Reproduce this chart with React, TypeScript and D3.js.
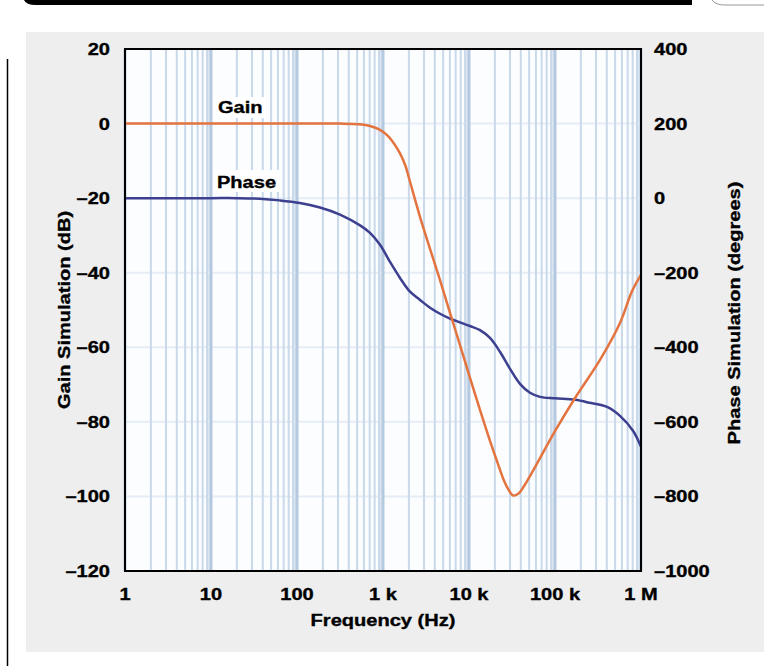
import * as d3 from "d3";

// Gain simulation (dB) vs frequency (Hz)
const gainFreq = [1, 10, 100, 316, 541, 706, 923, 1139, 1365, 1577, 1823, 2061, 2692, 3522, 4603, 6015, 7855, 10270, 13420, 17540, 21500, 24850, 28500, 32500, 37300, 43700, 53700, 66950, 100000, 171000, 333600, 570000, 785000, 1000000];
const gainDb = [0, 0, 0, 0, -0.2, -0.65, -1.7, -3.3, -5.6, -8.0, -11.3, -15.6, -25.0, -33.6, -42.0, -50.8, -59.4, -68.2, -76.8, -85.1, -91.0, -95.1, -98.0, -99.75, -99.3, -97.2, -93.7, -89.7, -82.5, -73.6, -63.4, -53.5, -45.0, -40.6];

// Phase simulation (degrees) vs frequency (Hz)
const phaseFreq = [1, 10, 20, 37, 63, 108, 185, 316, 541, 706, 923, 1206, 1577, 2061, 2692, 3522, 4603, 6015, 7855, 10270, 13420, 17540, 22920, 29980, 39170, 51180, 66950, 100000, 171000, 255200, 402700, 570000, 807000, 1000000];
const phaseDeg = [0, 0, 0, -1.5, -6, -13, -25, -44, -73, -93, -125, -171, -214, -251, -273, -294, -310, -323, -333, -343, -354, -375, -412, -458, -498, -522, -533, -537, -541, -549, -560, -584, -624, -667];

const xTicks = [1, 10, 100, 1000, 10000, 100000, 1000000];
const xTickLabels = ["1", "10", "100", "1 k", "10 k", "100 k", "1 M"];
const gainTicks = [20, 0, -20, -40, -60, -80, -100, -120];
const phaseTicks = [400, 200, 0, -200, -400, -600, -800, -1000];

const W = 764;
const H = 666;
const plot = { left: 125, top: 49, right: 641, bottom: 571 };
const font = "'Liberation Sans', Arial, Helvetica, sans-serif";
const SX = 1.18; // the original lettering is a little wide

const fmt = (v: number) => (v < 0 ? "\u2013" + Math.abs(v) : String(v));

function T(props: { x: number; y: number; anchor?: string; rotate?: boolean; children: string }) {
  const { x, y, anchor = "start", rotate = false, children } = props;
  const tf = `translate(${x},${y})${rotate ? " rotate(-90)" : ""} scale(${SX},1)`;
  return (
    <text transform={tf} fontSize={17} textAnchor={anchor} stroke="#000" strokeWidth={0.35}>
      {children}
    </text>
  );
}

export default function App() {
  const x = d3.scaleLog().domain([1, 1e6]).range([plot.left, plot.right]);
  const yG = d3.scaleLinear().domain([-120, 20]).range([plot.bottom, plot.top]);
  const yP = d3.scaleLinear().domain([-1000, 400]).range([plot.bottom, plot.top]);

  const minor: number[] = [];
  for (let d = 0; d < 6; d++) {
    for (let m = 2; m <= 9; m++) minor.push(m * Math.pow(10, d));
  }
  const bands: number[] = [];
  for (let d = 0; d < 6; d++) bands.push(9 * Math.pow(10, d));

  const gainLine = d3
    .line<number>()
    .x((_, i) => x(gainFreq[i]))
    .y((d) => yG(d))
    .curve(d3.curveCatmullRom.alpha(0.5));
  const phaseLine = d3
    .line<number>()
    .x((_, i) => x(phaseFreq[i]))
    .y((d) => yP(d))
    .curve(d3.curveCatmullRom.alpha(0.5));

  const pw = plot.right - plot.left;
  const ph = plot.bottom - plot.top;
  const midY = (plot.top + plot.bottom) / 2;

  return (
    <svg
      width={W}
      height={H}
      style={{ position: "absolute", left: 0, top: 0, background: "#fff" }}
      fontFamily={font}
      fontWeight="bold"
    >
      {/* page decorations */}
      <path d="M24,0 H692 V5 H36 Q26,5 24,0 Z" fill="#000" />
      <path d="M712,0 Q716,5 724,5 H764" fill="none" stroke="#999" strokeWidth={1} />
      <line x1={7.5} x2={7.5} y1={59} y2={H} stroke="#000" strokeWidth={1.5} />
      <rect x={26} y={32} width={W - 26} height={620} fill="#eeeeee" />

      {/* plot background */}
      <rect x={plot.left} y={plot.top} width={pw} height={ph} fill="#fbfdff" />
      {bands.map((b) => (
        <rect key={"b" + b} x={x(b)} y={plot.top} width={x(b * 10 / 9) - x(b)} height={ph} fill="#dbe6f2" />
      ))}
      {gainTicks.map((t) => (
        <line key={"h" + t} x1={plot.left} x2={plot.right} y1={yG(t)} y2={yG(t)} stroke="#e6edf5" strokeWidth={2} />
      ))}
      {minor.map((m) => (
        <line key={"m" + m} x1={x(m)} x2={x(m)} y1={plot.top} y2={plot.bottom} stroke="#c9d9ea" strokeWidth={2} />
      ))}
      {xTicks.map((t) => (
        <line key={"d" + t} x1={x(t)} x2={x(t)} y1={plot.top} y2={plot.bottom} stroke="#b5c9df" strokeWidth={3} />
      ))}

      {/* series labels */}
      <rect x={214} y={97} width={52} height={21} fill="#fff" />
      <T x={218} y={113}>Gain</T>
      <rect x={213} y={170} width={66} height={22} fill="#fff" />
      <T x={217} y={188}>Phase</T>

      {/* curves */}
      <path d={phaseLine(phaseDeg) || ""} fill="none" stroke="#3d3f8f" strokeWidth={2.5} />
      <path d={gainLine(gainDb) || ""} fill="none" stroke="#e4743f" strokeWidth={2.5} />

      {/* frame */}
      <rect x={plot.left} y={plot.top} width={pw} height={ph} fill="none" stroke="#000" strokeWidth={2} />

      {/* left axis */}
      {gainTicks.map((t) => (
        <T key={"gl" + t} x={110} y={yG(t) + 6} anchor="end">{fmt(t)}</T>
      ))}
      {/* right axis */}
      {phaseTicks.map((t) => (
        <T key={"pl" + t} x={654} y={yP(t) + 6}>{fmt(t)}</T>
      ))}
      {/* bottom axis */}
      {xTicks.map((t, i) => (
        <T key={"xl" + t} x={x(t)} y={600} anchor="middle">{xTickLabels[i]}</T>
      ))}

      <T x={(plot.left + plot.right) / 2} y={626} anchor="middle">Frequency (Hz)</T>
      <T x={70} y={midY} anchor="middle" rotate>Gain Simulation (dB)</T>
      <T x={740} y={midY + 3} anchor="middle" rotate>Phase Simulation (degrees)</T>
    </svg>
  );
}
